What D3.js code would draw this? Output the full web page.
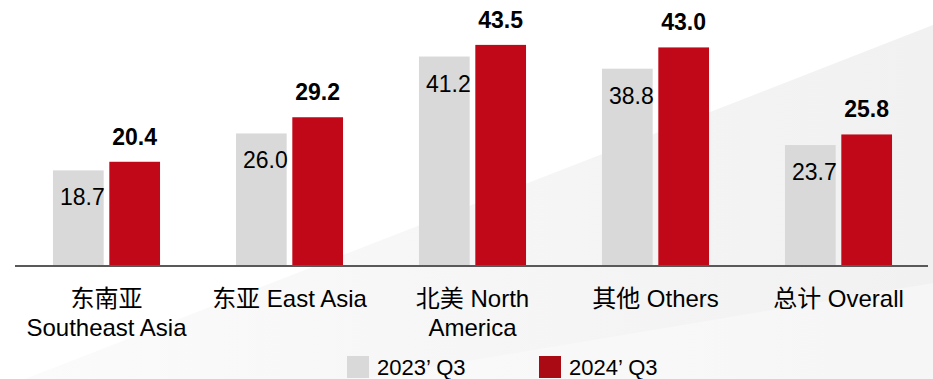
<!DOCTYPE html>
<html>
<head>
<meta charset="utf-8">
<script src="https://cdn.jsdelivr.net/npm/d3@7"></script>
<style>
  html, body { margin: 0; padding: 0; background: #ffffff; }
  svg { display: block; }
  text { font-family: "Liberation Sans", Arial, "Noto Sans CJK SC", sans-serif; fill: #000; }
</style>
</head>
<body>
<svg id="chart" width="933" height="379"></svg>
<script>
// Regions shown along the x axis (each entry is one category, split into display lines)
const categories = ["东南亚 Southeast Asia", "东亚 East Asia", "北美 North America", "其他 Others", "总计 Overall"];
const categoryLines = [
  ["东南亚", "Southeast Asia"],
  ["东亚 East Asia"],
  ["北美 North", "America"],
  ["其他 Others"],
  ["总计 Overall"]
];
const seriesNames = ["2023’ Q3", "2024’ Q3"];
const values2023 = [18.7, 26.0, 41.2, 38.8, 23.7];
const values2024 = [20.4, 29.2, 43.5, 43.0, 25.8];

const W = 933, H = 379;
const svg = d3.select("#chart");

// Soft diagonal backdrop
const defs = svg.append("defs");
const grad = defs.append("linearGradient").attr("id", "bgFade")
  .attr("x1", "0%").attr("y1", "0%").attr("x2", "100%").attr("y2", "0%");
grad.append("stop").attr("offset", "0%").attr("stop-color", "#fbfbfb");
grad.append("stop").attr("offset", "100%").attr("stop-color", "#f1f1f1");
svg.append("path")
  .attr("d", "M933,25 L933,379 L25,379 Z")
  .attr("fill", "url(#bgFade)");
svg.append("path")
  .attr("d", "M933,283 L933,379 L360,379 Z")
  .attr("fill", "#ffffff").attr("opacity", 0.35);

// Scales
const x0 = d3.scaleBand().domain(categories).range([15, 930])
  .paddingInner(0.415).paddingOuter(0.2075);
const x1 = d3.scaleBand().domain(seriesNames).range([0, x0.bandwidth()]).paddingInner(0.1);
const y = d3.scaleLinear().domain([0, 50]).range([265, 12]);

const colors = { "2023’ Q3": "#d9d9d9", "2024’ Q3": "#c00818" };
const legendColors = { "2023’ Q3": "#d9d9d9", "2024’ Q3": "#a90a14" };

const rows = categories.map((c, i) => ({
  cat: c,
  vals: [
    { s: seriesNames[0], v: values2023[i] },
    { s: seriesNames[1], v: values2024[i] }
  ]
}));

const groups = svg.append("g").selectAll("g").data(rows).join("g")
  .attr("transform", d => `translate(${x0(d.cat)},0)`);

groups.selectAll("rect").data(d => d.vals).join("rect")
  .attr("x", d => x1(d.s))
  .attr("y", d => y(d.v))
  .attr("width", x1.bandwidth())
  .attr("height", d => y(0) - y(d.v))
  .attr("fill", d => colors[d.s]);

// 2023 labels sit inside the grey bar near its top
groups.append("text")
  .attr("x", d => x1(seriesNames[0]) + x1.bandwidth() + 1)
  .attr("y", d => y(d.vals[0].v) + 27)
  .attr("text-anchor", "end")
  .attr("dominant-baseline", "central")
  .style("font-size", "23px")
  .text(d => d.vals[0].v.toFixed(1));

// 2024 labels sit above the red bar in bold
groups.append("text")
  .attr("x", d => x1(seriesNames[1]) + x1.bandwidth() / 2)
  .attr("y", d => y(d.vals[1].v) - 25)
  .attr("text-anchor", "middle")
  .attr("dominant-baseline", "central")
  .style("font-size", "23px")
  .style("font-weight", "bold")
  .text(d => d.vals[1].v.toFixed(1));

// Baseline axis
const xAxis = d3.axisBottom(x0).tickSize(0).tickFormat(() => "");
const axisG = svg.append("g").attr("transform", "translate(0,266)").call(xAxis);
axisG.select(".domain").attr("stroke", "#595959").attr("stroke-width", 2)
  .attr("d", "M15,0H928");

// Category labels
const labelG = svg.append("g");
rows.forEach((d, i) => {
  const cx = x0(d.cat) + x0.bandwidth() / 2;
  categoryLines[i].forEach((line, j) => {
    labelG.append("text")
      .attr("x", cx)
      .attr("y", 298 + j * 29)
      .attr("text-anchor", "middle")
      .attr("dominant-baseline", "central")
      .style("font-size", "24px")
      .text(line);
  });
});

// Legend
const legendX = [347, 539];
const legend = svg.append("g").selectAll("g").data(seriesNames).join("g")
  .attr("transform", (d, i) => `translate(${legendX[i]},356)`);
legend.append("rect").attr("width", 22).attr("height", 22)
  .attr("fill", d => legendColors[d]);
legend.append("text").attr("x", 30).attr("y", 11)
  .attr("dominant-baseline", "central")
  .style("font-size", "22px")
  .text(d => d);
</script>
</body>
</html>
